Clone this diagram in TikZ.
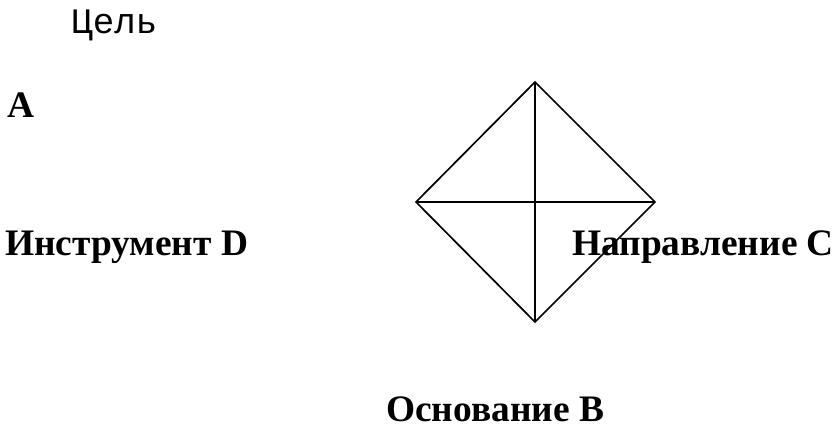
\documentclass[tikz,border=0pt]{standalone}
\usepackage{fontspec}
\setmainfont{Liberation Serif}
\setmonofont{Liberation Mono}
\usepackage{tikz}
\usetikzlibrary{positioning}

\begin{document}
\begin{tikzpicture}[
    x=0.025cm, y=-0.025cm,
    caption/.style={inner sep=0pt, anchor=base west, font=\fontsize{26.6}{30}\selectfont\bfseries},
    goal/.style={inner sep=0pt, anchor=base west, font=\fontsize{25.5}{30}\selectfont\ttfamily},
    edge/.style={draw=black, line width=1.2pt, line join=miter}
]
    \useasboundingbox (0,0) rectangle (836,428);

    % Labels
    \node[goal] (GOAL) at (71,33) {Цель};
    \node[caption] (A) at (7,117) {A};
    \node[caption] (D) at (5,255) {Инструмент D};
    \node[caption] (C) at (572,255) {Направление C};
    \node[caption] (B) at (386,421) {Основание B};

    % Diamond corners
    \coordinate (TOP) at (535,82);
    \coordinate (LEFT) at (416,202);
    \coordinate (RIGHT) at (655,202);
    \coordinate (BOTTOM) at (535,322);

    % Diamond with its diagonals
    \draw[edge] (TOP) -- (RIGHT) -- (BOTTOM) -- (LEFT) -- cycle;
    \draw[edge] (TOP) -- (BOTTOM);
    \draw[edge] (LEFT) -- (RIGHT);
\end{tikzpicture}
\end{document}
